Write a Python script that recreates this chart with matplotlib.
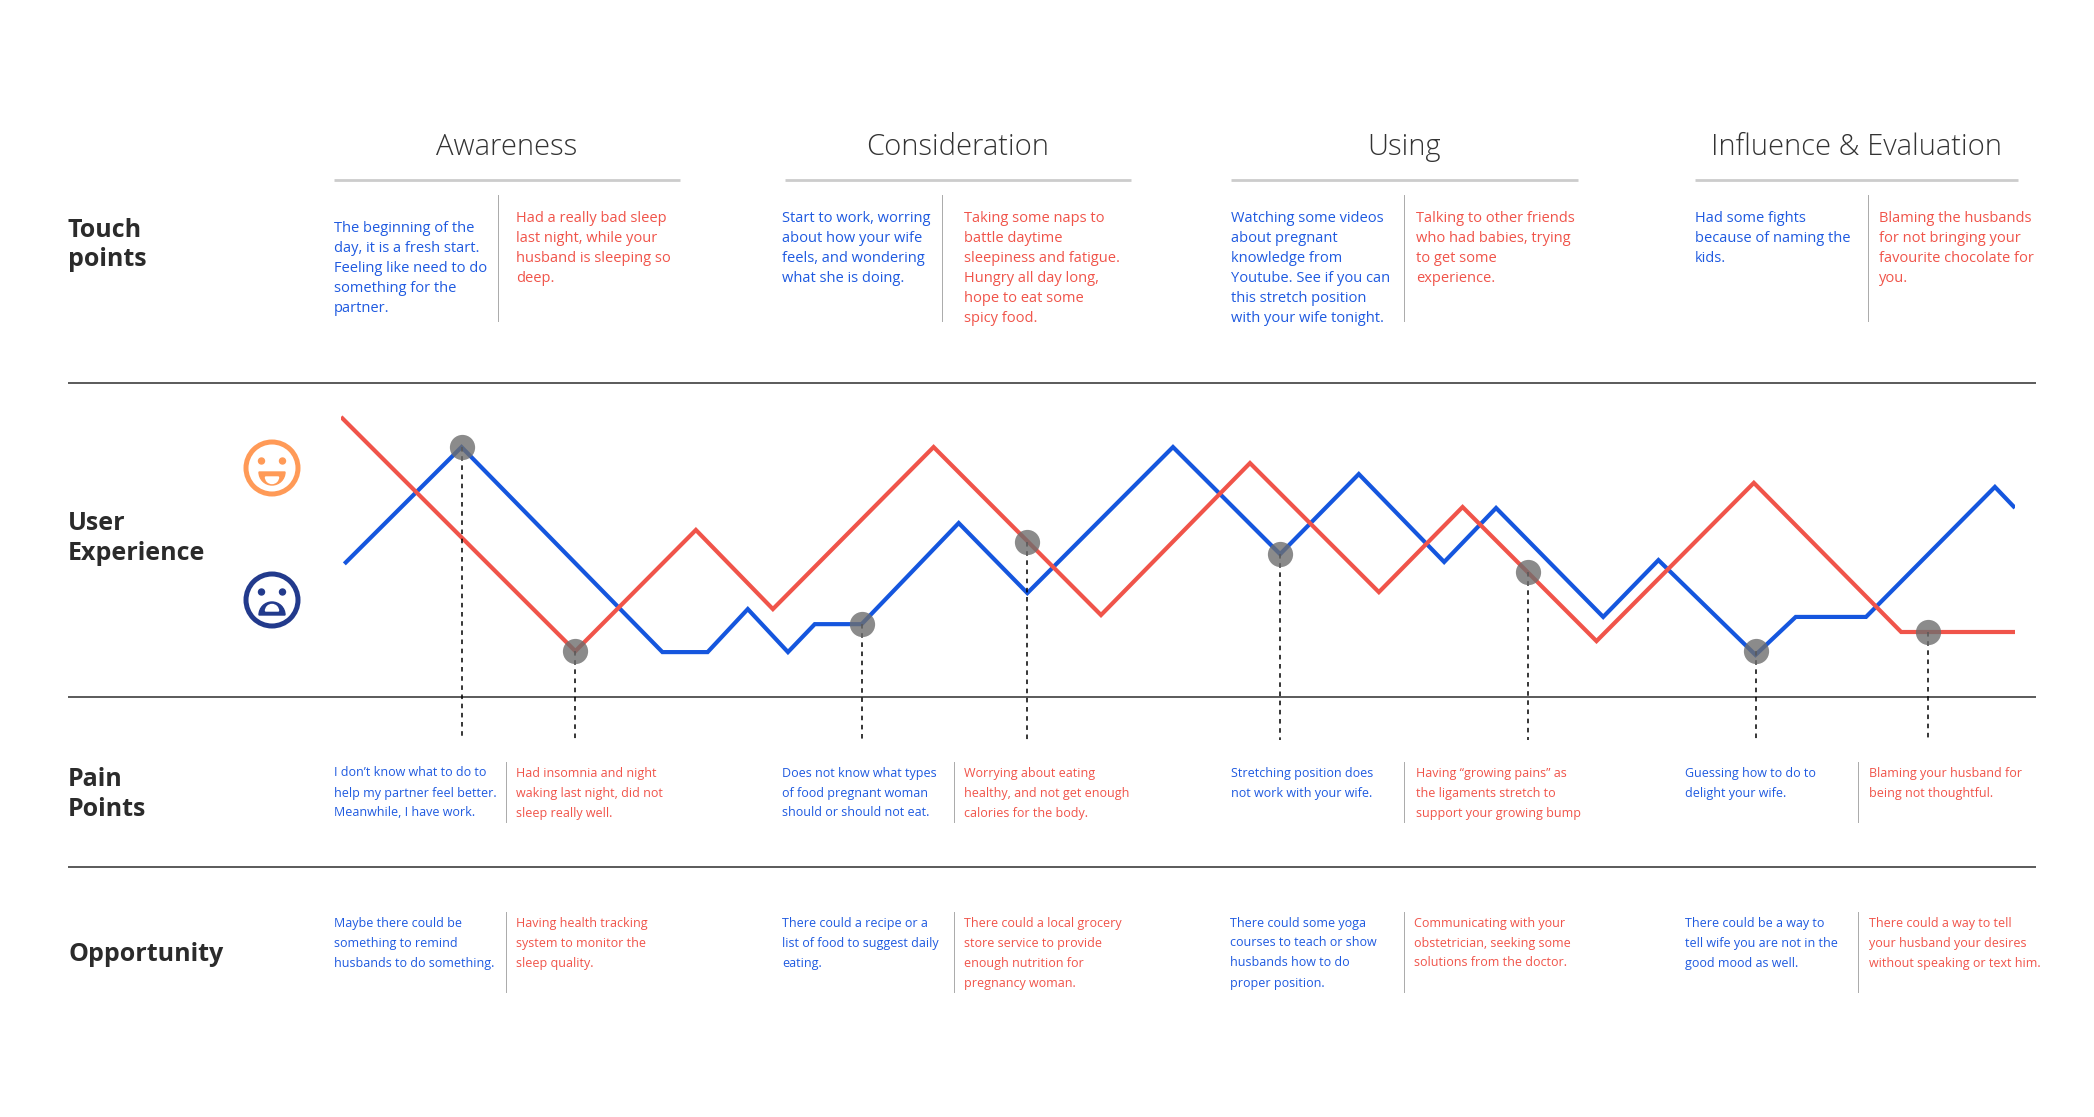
import matplotlib
matplotlib.use("Agg")
import matplotlib.pyplot as plt
from matplotlib.patches import Circle, Wedge

plt.rcParams['font.family'] = ['Open Sans', 'DejaVu Sans']

# stages of the journey
stages = ["Awareness", "Consideration", "Using", "Influence & Evaluation"]

# touch points (blue = her, red = him)
touch_blue = ["The beginning of the\nday, it is a fresh start.\nFeeling like need to do\nsomething for the\npartner.",
              "Start to work, worring\nabout how your wife\nfeels, and wondering\nwhat she is doing.",
              "Watching some videos\nabout pregnant\nknowledge from\nYoutube. See if you can\nthis stretch position\nwith your wife tonight.",
              "Had some fights\nbecause of naming the\nkids."]
touch_red = ["Had a really bad sleep\nlast night, while your\nhusband is sleeping so\ndeep.",
             "Taking some naps to\nbattle daytime\nsleepiness and fatigue.\nHungry all day long,\nhope to eat some\nspicy food.",
             "Talking to other friends\nwho had babies, trying\nto get some\nexperience.",
             "Blaming the husbands\nfor not bringing your\nfavourite chocolate for\nyou."]

pain_blue = ["I don\u2019t know what to do to\nhelp my partner feel better.\nMeanwhile, I have work.",
             "Does not know what types\nof food pregnant woman\nshould or should not eat.",
             "Stretching position does\nnot work with your wife.",
             "Guessing how to do to\ndelight your wife."]
pain_red = ["Had insomnia and night\nwaking last night, did not\nsleep really well.",
            "Worrying about eating\nhealthy, and not get enough\ncalories for the body.",
            "Having \u201cgrowing pains\u201d as\nthe ligaments stretch to\nsupport your growing bump",
            "Blaming your husband for\nbeing not thoughtful."]

opp_blue = ["Maybe there could be\nsomething to remind\nhusbands to do something.",
            "There could a recipe or a\nlist of food to suggest daily\neating.",
            "There could some yoga\ncourses to teach or show\nhusbands how to do\nproper position.",
            "There could be a way to\ntell wife you are not in the\ngood mood as well."]
opp_red = ["Having health tracking\nsystem to monitor the\nsleep quality.",
           "There could a local grocery\nstore service to provide\nenough nutrition for\npregnancy woman.",
           "Communicating with your\nobstetrician, seeking some\nsolutions from the doctor.",
           "There could a way to tell\nyour husband your desires\nwithout speaking or text him."]

# user experience curves (timeline 0-100, mood 0-10)
red_x = [0, 14.0, 21.2, 25.8, 35.4, 45.4, 54.3, 62.0, 67.0, 75.0, 84.4, 93.2, 100]
red_y = [8.92, 1.46, 5.32, 2.80, 7.96, 2.61, 7.45, 3.34, 6.05, 1.78, 6.82, 2.07, 2.07]
blue_x = [0.2, 7.2, 19.2, 21.9, 24.3, 26.7, 28.3, 31.1, 36.9, 41.0, 49.7, 56.1, 60.8,
          65.9, 69.0, 75.4, 78.7, 84.5, 86.9, 91.1, 98.8, 100]
blue_y = [4.24, 7.96, 1.43, 1.43, 2.80, 1.43, 2.32, 2.32, 5.54, 3.31, 7.96, 4.55, 7.10,
          4.30, 6.02, 2.55, 4.36, 1.34, 2.55, 2.55, 6.69, 6.02]
# pain point markers
pain_x = [7.2, 14.0, 31.1, 41.0, 56.1, 70.9, 84.5, 94.8]
pain_y = [7.96, 1.46, 2.32, 4.94, 4.55, 3.98, 1.45, 2.07]

BLUE = '#1556de'
RED = '#f0544a'
TBLUE = '#1f5ae0'
TRED = '#f0544a'
DARK = '#2b2b2b'

W, H = 2094, 1117
fig = plt.figure(figsize=(W / 100, H / 100), dpi=100)
fig.patch.set_facecolor('white')

# overlay in pixel coordinates for layout
ov = fig.add_axes([0, 0, 1, 1])
ov.set_xlim(0, W)
ov.set_ylim(H, 0)
ov.axis('off')

blue_col_tp = [334, 782, 1231, 1695]
sep_tp = [498, 942, 1404, 1868]
red_col_tp = [516, 964, 1416, 1879]
blue_col_pp = [334, 782, 1231, 1685]
sep_pp = [506, 954, 1404, 1858]
red_col_pp = [516, 964, 1416, 1869]
under = [(334, 680), (785, 1131), (1231, 1578), (1695, 2018)]


def block(x, y0, txt, color, size, step):
    for i, line in enumerate(txt.split('\n')):
        ov.text(x, y0 + i * step + 4.5, line, color=color, fontsize=size,
                ha='left', va='baseline')


for i, name in enumerate(stages):
    x0, x1 = under[i]
    ov.text((x0 + x1) / 2, 155, name, fontsize=21, fontweight='light',
            color='#333333', ha='center', va='baseline')
    ov.plot([x0, x1], [180, 180], color='#cccccc', lw=2, solid_capstyle='butt')
    # touch points
    block(blue_col_tp[i], 227 if i == 0 else 217, touch_blue[i], TBLUE, 10.5, 20)
    block(red_col_tp[i], 217, touch_red[i], TRED, 10.5, 20)
    ov.plot([sep_tp[i]] * 2, [195, 321], color='#aaaaaa', lw=0.7)
    # pain points
    block(blue_col_pp[i], 772, pain_blue[i], TBLUE, 9, 20)
    block(red_col_pp[i], 772, pain_red[i], TRED, 9, 20)
    ov.plot([sep_pp[i]] * 2, [762, 822], color='#aaaaaa', lw=0.7)
    # opportunities
    block(blue_col_pp[i] - (1 if i == 2 else 0), 922, opp_blue[i], TBLUE, 9, 20)
    block(red_col_pp[i] - (2 if i == 2 else 0), 922, opp_red[i], TRED, 9, 20)
    ov.plot([sep_pp[i]] * 2, [912, 992], color='#aaaaaa', lw=0.7)

# row labels
lab = dict(fontsize=18, fontweight='bold', color=DARK, ha='left', va='baseline')
ov.text(68, 237, "Touch", **lab)
ov.text(68, 266, "points", **lab)
ov.text(68, 530, "User", **lab)
ov.text(68, 560, "Experience", **lab)
ov.text(68, 786, "Pain", **lab)
ov.text(68, 816, "Points", **lab)
ov.text(68, 961, "Opportunity", **lab)

# row dividers
for yy in [383, 697, 867]:
    ov.plot([68, 2036], [yy, yy], color='#5a5a5a', lw=1.4, solid_capstyle='butt')

# faces
ORANGE = '#ff9a57'
NAVY = '#223a8c'
ov.add_patch(Circle((272, 468), 26, fill=False, ec=ORANGE, lw=3.6))
for dx in (-10.5, 10.5):
    ov.add_patch(Circle((272 + dx, 461), 3, color=ORANGE))
ov.add_patch(Wedge((272, 472), 13, 0, 180, color=ORANGE))
ov.add_patch(Wedge((272, 477), 6.5, 0, 180, color='white'))

ov.add_patch(Circle((272, 600), 26, fill=False, ec=NAVY, lw=3.6))
for dx in (-10.5, 10.5):
    ov.add_patch(Circle((272 + dx, 592), 3, color=NAVY))
ov.add_patch(Wedge((272, 615), 13, 180, 360, color=NAVY))
ov.add_patch(Wedge((272, 611), 6.5, 180, 360, color='white'))

# user experience chart
ax = fig.add_axes([341 / W, (H - 697) / H, (2015 - 341) / W, 314 / H])
ax.set_xlim(0, 100)
ax.set_ylim(0, 10)
ax.axis('off')
ax.plot(blue_x, blue_y, color=BLUE, lw=3, solid_joinstyle='miter', solid_capstyle='butt', zorder=2)
ax.plot(red_x, red_y, color=RED, lw=3, solid_joinstyle='miter', solid_capstyle='butt', zorder=3)
for px, py in zip(pain_x, pain_y):
    ax.plot([px, px], [py, -1.37], color='black', lw=1.1, ls=(0, (3, 3)),
            clip_on=False, zorder=4)
ax.scatter(pain_x, pain_y, s=330, color='#6e6e6e', alpha=0.8, lw=0, zorder=5, clip_on=False)

fig.savefig('out.png', dpi=100, facecolor='white')
